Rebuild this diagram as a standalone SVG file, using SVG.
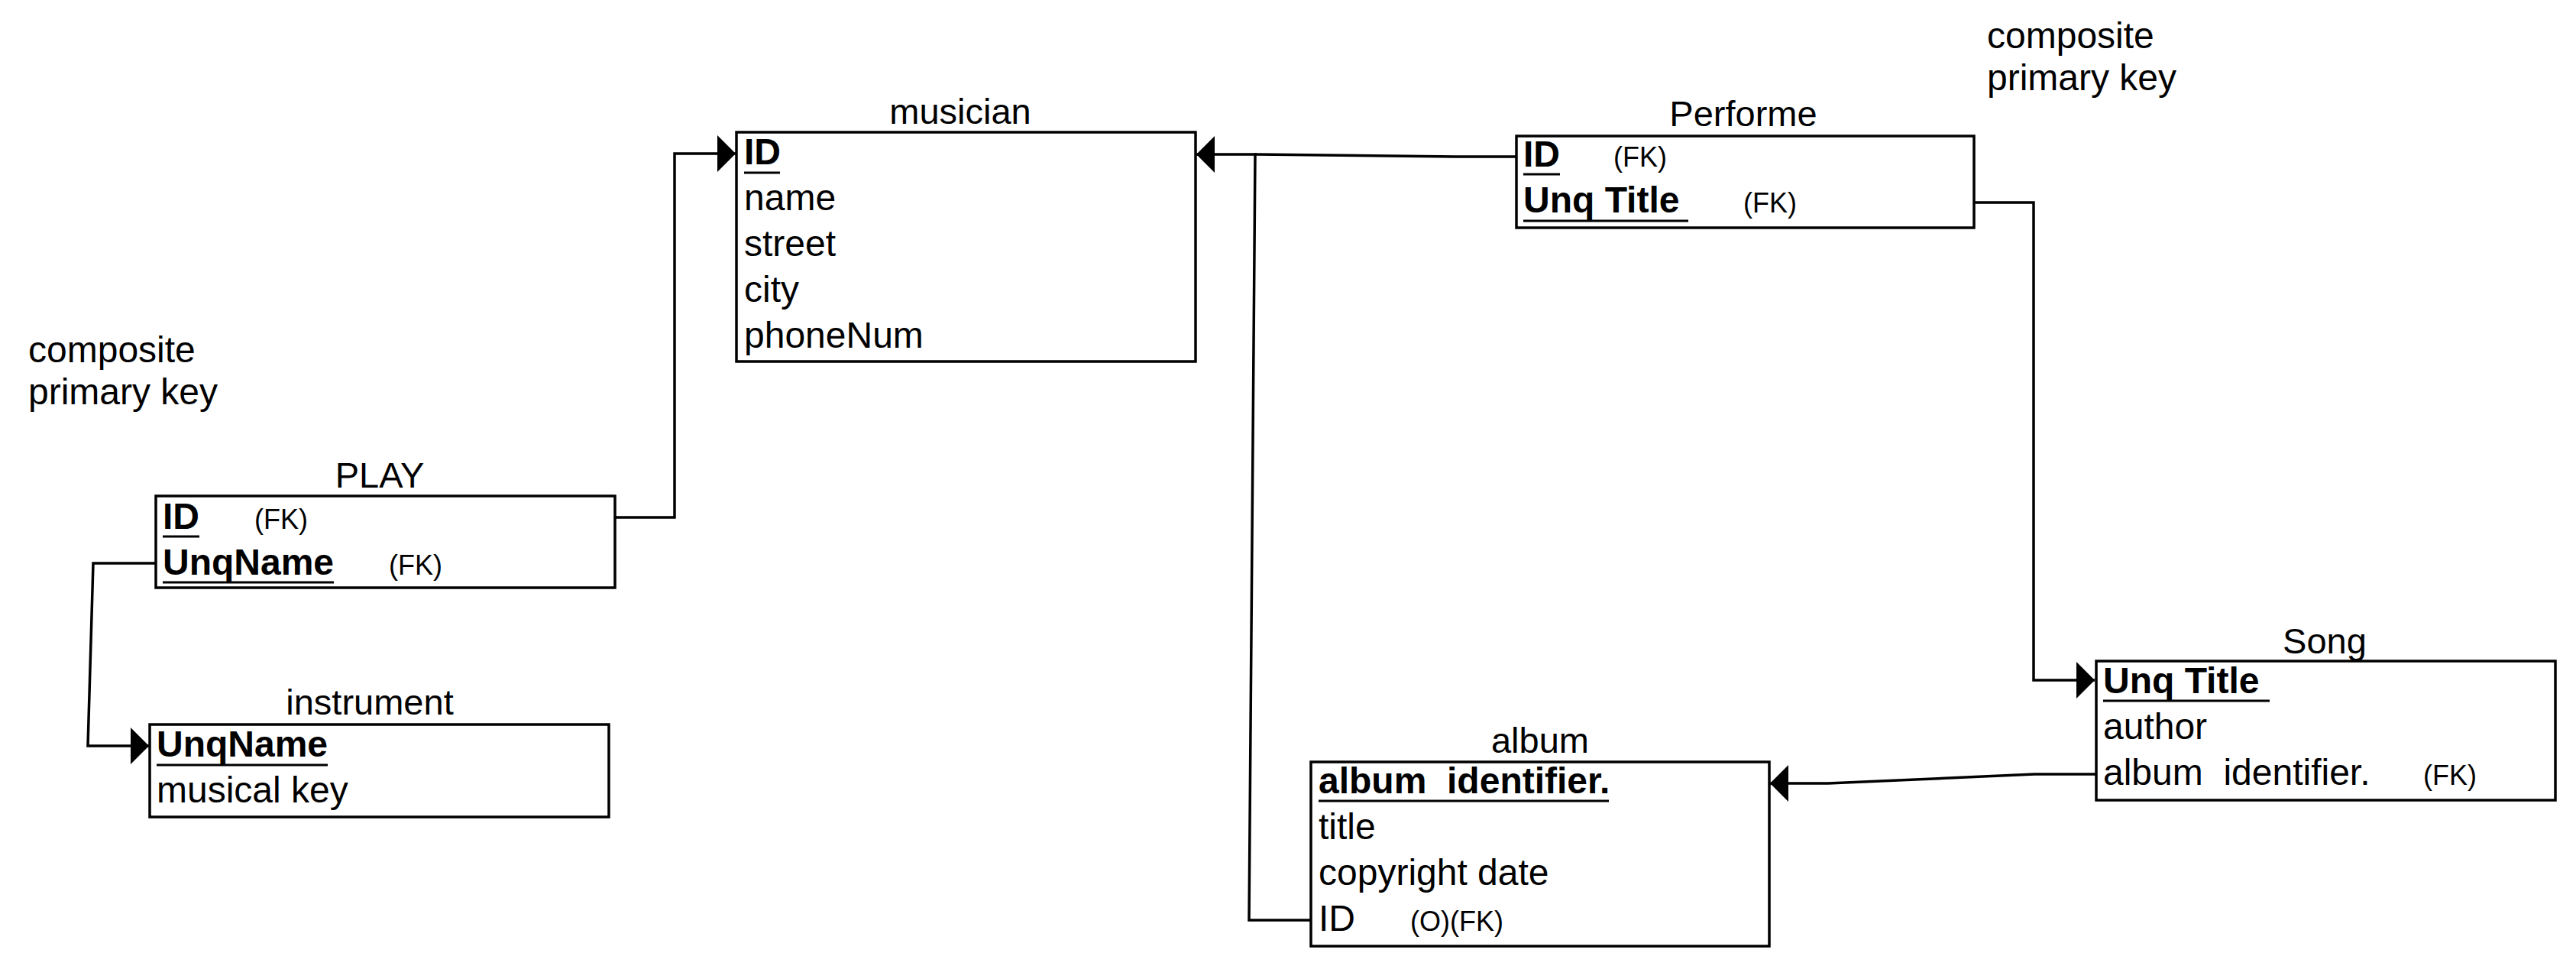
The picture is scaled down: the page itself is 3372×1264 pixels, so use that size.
<svg xmlns="http://www.w3.org/2000/svg" width="3372" height="1264" viewBox="0 0 3372 1264">
<style>
text{font-family:"Liberation Sans",Arial,sans-serif;fill:#000;white-space:pre}
.t{font-size:47px;text-anchor:middle}
.a{font-size:48px}
.b{font-size:48px;font-weight:bold}
.s{font-size:36px}
.n{font-size:48px}
.box{fill:#fff;stroke:#000;stroke-width:3.5}
.ul{stroke:#000;stroke-width:3}
.c{fill:none;stroke:#000;stroke-width:3.5;stroke-linejoin:miter}
</style>
<defs>
<marker id="arr" viewBox="0 0 24 48" refX="24" refY="24" markerWidth="24" markerHeight="48" markerUnits="userSpaceOnUse" orient="auto">
<path d="M0,0 L24,24 L0,48 Z" fill="#000"/>
</marker>
</defs>
<rect width="3372" height="1264" fill="#fff"/>

<g id="connectors">
<path class="c" d="M805,677 L883,677 L883,201 L963,201" marker-end="url(#arr)"/>
<path class="c" d="M1985,205 L1905,205 L1645,202 L1566,202" marker-end="url(#arr)"/>
<path class="c" d="M1716,1204 L1635,1204 L1643,202 L1645,202"/>
<path class="c" d="M2584,265 L2662,265 L2662,890 L2742,890" marker-end="url(#arr)"/>
<path class="c" d="M2744,1013 L2663,1013 L2393,1025 L2317,1025" marker-end="url(#arr)"/>
<path class="c" d="M204,737 L122,737 L115,976 L195,976" marker-end="url(#arr)"/>
</g>

<g id="musician">
<text class="t" x="1257" y="162">musician</text>
<rect class="box" x="964" y="173" width="601" height="300"/>
<text class="b" x="974" y="215">ID</text>
<line class="ul" x1="974" y1="226" x2="1021" y2="226"/>
<text class="a" x="974" y="275">name</text>
<text class="a" x="974" y="335">street</text>
<text class="a" x="974" y="395">city</text>
<text class="a" x="974" y="455">phoneNum</text>
</g>

<g id="performe">
<text class="t" x="2282" y="165">Performe</text>
<rect class="box" x="1985" y="178" width="599" height="120"/>
<text class="b" x="1994" y="218">ID</text>
<line class="ul" x1="1994" y1="228" x2="2042" y2="228"/>
<text class="s" x="2112" y="218">(FK)</text>
<text class="b" x="1994" y="278">Unq Title</text>
<line class="ul" x1="1994" y1="289" x2="2210" y2="289"/>
<text class="s" x="2282" y="278">(FK)</text>
</g>

<g id="play">
<text class="t" x="497" y="638">PLAY</text>
<rect class="box" x="204" y="649" width="601" height="120"/>
<text class="b" x="213" y="692">ID</text>
<line class="ul" x1="213" y1="702" x2="261" y2="702"/>
<text class="s" x="333" y="692">(FK)</text>
<text class="b" x="213" y="752">UnqName</text>
<line class="ul" x1="213" y1="762" x2="437" y2="762"/>
<text class="s" x="509" y="752">(FK)</text>
</g>

<g id="instrument">
<text class="t" x="484" y="935">instrument</text>
<rect class="box" x="196" y="948" width="601" height="121"/>
<text class="b" x="205" y="990">UnqName</text>
<line class="ul" x1="205" y1="1001" x2="429" y2="1001"/>
<text class="a" x="205" y="1050">musical key</text>
</g>

<g id="album">
<text class="t" x="2016" y="985">album</text>
<rect class="box" x="1716" y="997" width="600" height="241"/>
<text class="b" x="1726" y="1038">album  identifier.</text>
<line class="ul" x1="1726" y1="1048" x2="2106" y2="1048"/>
<text class="a" x="1726" y="1098">title</text>
<text class="a" x="1726" y="1158">copyright date</text>
<text class="a" x="1726" y="1218">ID</text>
<text class="s" x="1846" y="1218">(O)(FK)</text>
</g>

<g id="song">
<text class="t" x="3043" y="855">Song</text>
<rect class="box" x="2744" y="865" width="601" height="182"/>
<text class="b" x="2753" y="907">Unq Title</text>
<line class="ul" x1="2753" y1="917" x2="2971" y2="917"/>
<text class="a" x="2753" y="967">author</text>
<text class="a" x="2753" y="1027">album  identifier.</text>
<text class="s" x="3172" y="1027">(FK)</text>
</g>

<g id="note-left">
<text class="n" x="37" y="474">composite</text>
<text class="n" x="37" y="529">primary key</text>
</g>
<g id="note-right">
<text class="n" x="2601" y="63">composite</text>
<text class="n" x="2601" y="118">primary key</text>
</g>
</svg>
